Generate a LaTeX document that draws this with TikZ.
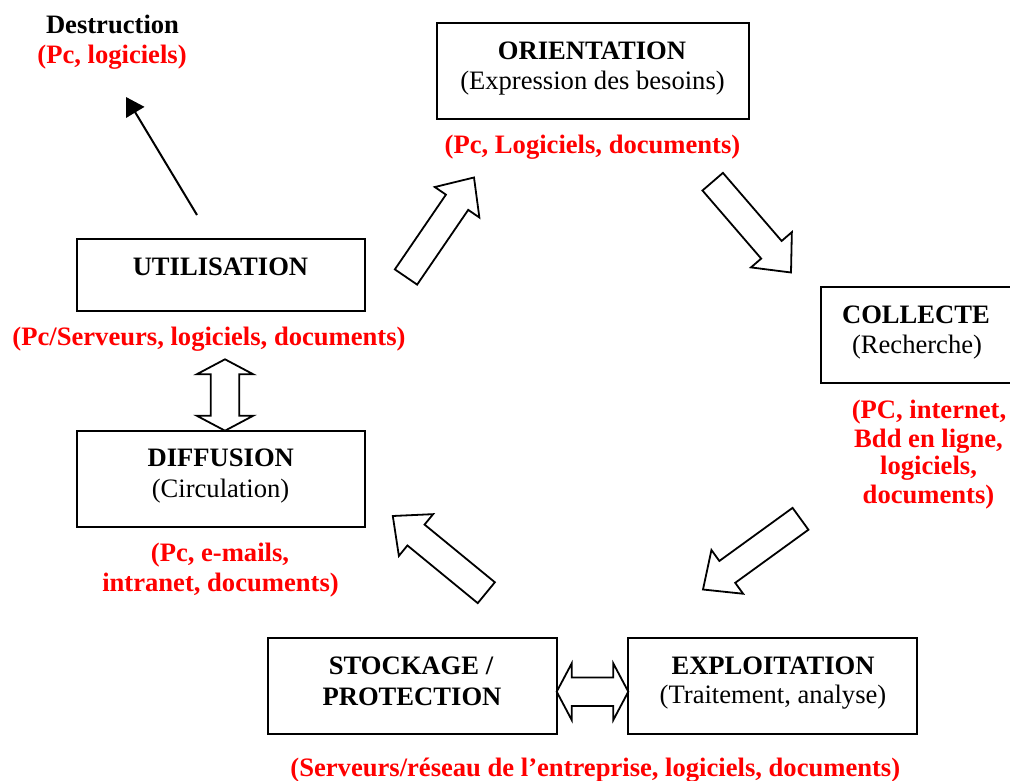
\documentclass[tikz,border=0pt]{standalone}
\usepackage{fontspec}
\setmainfont{Liberation Serif}
\usetikzlibrary{calc,arrows.meta}
\definecolor{resred}{RGB}{255,0,0}
\newcommand\blkarrow[2]{%
  \path ($(#2)!30pt!(#1)$) coordinate (bah);
  \draw[blk] ($(#1)!13.5pt!90:(#2)$) -- ($(bah)!13.5pt!90:(#2)$) -- ($(bah)!27pt!90:(#2)$) -- (#2)
    -- ($(bah)!27pt!-90:(#2)$) -- ($(bah)!13.5pt!-90:(#2)$) -- ($(#1)!13.5pt!-90:(#2)$) -- cycle;}
\newcommand\dblarrow[2]{%
  \path ($(#1)!15pt!(#2)$) coordinate (dha) ($(#2)!15pt!(#1)$) coordinate (dhb);
  \draw[blk] (#1) -- ($(dha)!28.3pt!90:(#2)$) -- ($(dha)!14.2pt!90:(#2)$) -- ($(dhb)!14.2pt!90:(#2)$)
    -- ($(dhb)!28.3pt!90:(#2)$) -- (#2) -- ($(dhb)!28.3pt!-90:(#2)$) -- ($(dhb)!14.2pt!-90:(#2)$)
    -- ($(dha)!14.2pt!-90:(#2)$) -- ($(dha)!28.3pt!-90:(#2)$) -- cycle;}
\begin{document}
\begin{tikzpicture}[x=1pt,y=-1pt,
  box/.style={draw, line width=1.8pt, fill=white, inner sep=0pt},
  blk/.style={draw, line width=1.8pt, fill=white, line join=miter},
  ttl/.style={font=\fontsize{26.6}{30}\selectfont\bfseries, anchor=base, inner sep=0pt},
  sub/.style={font=\fontsize{26.6}{30}\selectfont, anchor=base, inner sep=0pt},
  res/.style={ttl, text=resred}]
\useasboundingbox (0,0) rectangle (1010,781);
\begin{scope}
\clip (0,0) rectangle (1010,781);
% boxes
\node[box, minimum width=312.6pt, minimum height=95.7pt] (orient) at (593,71.15) {};
\node[box, minimum width=288.3pt, minimum height=71.7pt] (util) at (220.85,275.15) {};
\node[box, minimum width=288.3pt, minimum height=95.7pt] (diff) at (220.85,478.85) {};
\node[box, minimum width=194.3pt, minimum height=95.4pt] (coll) at (917.85,335) {};
\node[box, minimum width=288.4pt, minimum height=96pt] (stock) at (412.5,686.3) {};
\node[box, minimum width=288.4pt, minimum height=96pt] (exploit) at (772.5,686.3) {};
\end{scope}
% texts
\node[ttl] (destrT) at (112.5,33.3) {Destruction};
\node[res] (destrR) at (112,63.5) {(Pc, logiciels)};
\node[ttl] (orientT) at (592,59.5) {ORIENTATION};
\node[sub] (orientS) at (592.5,89.5) {(Expression des besoins)};
\node[res] (orientR) at (592.5,154) {(Pc, Logiciels, documents)};
\node[ttl] (utilT) at (220.5,275) {UTILISATION};
\node[res] (utilR) at (209,345) {(Pc/Serveurs, logiciels, documents)};
\node[ttl] (diffT) at (220.8,466.7) {DIFFUSION};
\node[sub] (diffS) at (220.5,497) {(Circulation)};
\node[res] (diffR1) at (220,561.7) {(Pc, e-mails,};
\node[res] (diffR2) at (220.5,591.7) {intranet, documents)};
\node[ttl] (collT) at (916,323.3) {COLLECTE};
\node[sub] (collS) at (917,353) {(Recherche)};
\node[res] (collR1) at (929,418.5) {(PC, internet,};
\node[res] (collR2) at (928.5,447) {Bdd en ligne,};
\node[res] (collR3) at (928.5,474.5) {logiciels,};
\node[res] (collR4) at (928.5,503) {documents)};
\node[ttl] (stockT1) at (411,674) {STOCKAGE /};
\node[ttl] (stockT2) at (412,705) {PROTECTION};
\node[ttl] (exploitT) at (773,674) {EXPLOITATION};
\node[sub] (exploitS) at (773,703.5) {(Traitement, analyse)};
\node[res] (stockR) at (595.3,776) {(Serveurs/réseau de l’entreprise, logiciels, documents)};
% block arrows
\coordinate (a1t) at (406,277);   \coordinate (a1h) at (474,177.5);
\coordinate (a2t) at (712.7,181.7); \coordinate (a2h) at (791,272.5);
\coordinate (a3t) at (800.5,518.8); \coordinate (a3h) at (703,589.5);
\coordinate (a4t) at (486.3,592.7); \coordinate (a4h) at (392.8,516);
\blkarrow{a1t}{a1h}
\blkarrow{a2t}{a2h}
\blkarrow{a3t}{a3h}
\blkarrow{a4t}{a4h}
\coordinate (d1a) at (225,359.3); \coordinate (d1b) at (225,430.7);
\coordinate (d2a) at (556.7,691.7); \coordinate (d2b) at (628.3,691.7);
\dblarrow{d1a}{d1b}
\dblarrow{d2a}{d2b}
% destruction arrow
\coordinate (dstart) at (197,215);
\coordinate (dend) at (126,97);
\draw[line width=2pt, -{Triangle[length=18pt,width=21pt]}] (dstart) -- (dend);
\end{tikzpicture}
\end{document}
